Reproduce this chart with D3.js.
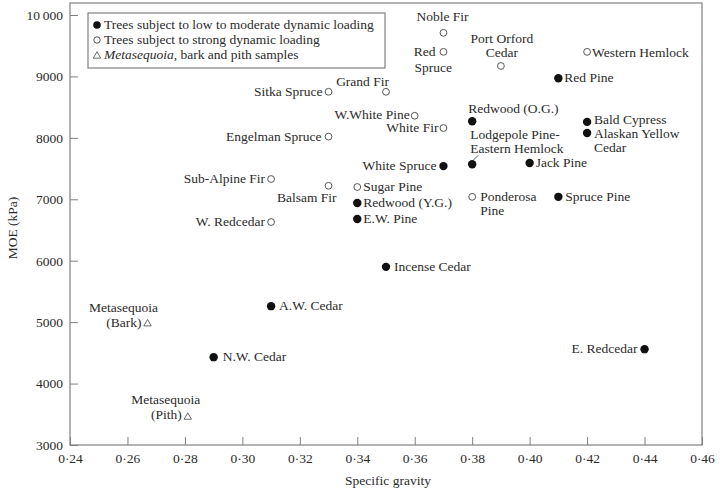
<!DOCTYPE html>
<html>
<head>
<meta charset="utf-8">
<script src="https://cdn.jsdelivr.net/npm/d3@7"></script>
<style>
  body { margin: 0; background: #fff; }
  text { font-family: "Liberation Serif", "DejaVu Serif", serif; fill: #2b2b2b; }
</style>
</head>
<body>
<div id="chart"></div>
<script>
var w = 720;
var h = 490;

// data
var names = [
    'Red Pine', 'Redwood (O.G.)', 'Bald Cypress', 'Alaskan Yellow Cedar', 'White Spruce',
    'Lodgepole Pine-Eastern Hemlock', 'Jack Pine', 'Spruce Pine', 'Redwood (Y.G.)', 'E.W. Pine',
    'Incense Cedar', 'A.W. Cedar', 'N.W. Cedar', 'E. Redcedar',
    'Noble Fir', 'Red Spruce', 'Port Orford Cedar', 'Western Hemlock', 'Sitka Spruce',
    'Grand Fir', 'W.White Pine', 'White Fir', 'Engelman Spruce', 'Sub-Alpine Fir',
    'Balsam Fir', 'Sugar Pine', 'Ponderosa Pine', 'W. Redcedar',
    'Metasequoia (Bark)', 'Metasequoia (Pith)'
];
var gravity = [
    0.41, 0.38, 0.42, 0.42, 0.37,
    0.38, 0.40, 0.41, 0.34, 0.34,
    0.35, 0.31, 0.29, 0.44,
    0.37, 0.37, 0.39, 0.42, 0.33,
    0.35, 0.36, 0.37, 0.33, 0.31,
    0.33, 0.34, 0.38, 0.31,
    0.267, 0.281
];
var moe = [
    8970, 8270, 8260, 8080, 7540,
    7570, 7590, 7040, 6940, 6680,
    5900, 5260, 4430, 4560,
    9710, 9400, 9170, 9400, 8750,
    8750, 8360, 8160, 8020, 7330,
    7220, 7200, 7040, 6630,
    4990, 3470
];
// 0 = low to moderate dynamic loading, 1 = strong dynamic loading, 2 = Metasequoia
var group = [
    0, 0, 0, 0, 0,
    0, 0, 0, 0, 0,
    0, 0, 0, 0,
    1, 1, 1, 1, 1,
    1, 1, 1, 1, 1,
    1, 1, 1, 1,
    2, 2
];

var xTicks = [0.24, 0.26, 0.28, 0.30, 0.32, 0.34, 0.36, 0.38, 0.40, 0.42, 0.44, 0.46];
var yTicks = [3000, 4000, 5000, 6000, 7000, 8000, 9000, 10000];
var legendText = ['Trees subject to low to moderate dynamic loading',
                  'Trees subject to strong dynamic loading',
                  ', bark and pith samples'];

// label placement: [text, dx, dy, anchor] relative to the marker
var labelPos = {
    'Red Pine': [['Red Pine', 6, 4, 'start']],
    'Redwood (O.G.)': [['Redwood (O.G.)', -4, -8, 'start']],
    'Bald Cypress': [['Bald Cypress', 7, 2, 'start']],
    'Alaskan Yellow Cedar': [['Alaskan Yellow', 7, 5, 'start'], ['Cedar', 7, 19, 'start']],
    'White Spruce': [['White Spruce', -7, 4, 'end']],
    'Lodgepole Pine-Eastern Hemlock': [['Lodgepole Pine-', -2, -25, 'start'], ['Eastern Hemlock', -2, -11, 'start']],
    'Jack Pine': [['Jack Pine', 6, 4, 'start']],
    'Spruce Pine': [['Spruce Pine', 7, 4, 'start']],
    'Redwood (Y.G.)': [['Redwood (Y.G.)', 6, 4, 'start']],
    'E.W. Pine': [['E.W. Pine', 6, 4, 'start']],
    'Incense Cedar': [['Incense Cedar', 8, 4, 'start']],
    'A.W. Cedar': [['A.W. Cedar', 8, 4, 'start']],
    'N.W. Cedar': [['N.W. Cedar', 9, 4, 'start']],
    'E. Redcedar': [['E. Redcedar', -7, 4, 'end']],
    'Noble Fir': [['Noble Fir', -1, -12, 'middle']],
    'Red Spruce': [['Red', -8, 4, 'end'], ['Spruce', -29, 20, 'start']],
    'Port Orford Cedar': [['Port Orford', 1, -23, 'middle'], ['Cedar', 1, -9, 'middle']],
    'Western Hemlock': [['Western Hemlock', 5, 5, 'start']],
    'Sitka Spruce': [['Sitka Spruce', -6, 4, 'end']],
    'Grand Fir': [['Grand Fir', 3, -6, 'end']],
    'W.White Pine': [['W.White Pine', -5, 3, 'end']],
    'White Fir': [['White Fir', -5, 4, 'end']],
    'Engelman Spruce': [['Engelman Spruce', -7, 4, 'end']],
    'Sub-Alpine Fir': [['Sub-Alpine Fir', -6, 4, 'end']],
    'Balsam Fir': [['Balsam Fir', 8, 16, 'end']],
    'Sugar Pine': [['Sugar Pine', 6, 4, 'start']],
    'Ponderosa Pine': [['Ponderosa', 8, 4, 'start'], ['Pine', 8, 18, 'start']],
    'W. Redcedar': [['W. Redcedar', -6, 4, 'end']],
    'Metasequoia (Bark)': [['Metasequoia', -24, -11, 'middle'], ['(Bark)', -6, 4, 'end']],
    'Metasequoia (Pith)': [['Metasequoia', -22, -12, 'middle'], ['(Pith)', -6, 3, 'end']]
};

var plotLeft = 70, plotRight = 702, plotTop = 3, plotBottom = 445;
var axisColor = '#808080';
var fontSize = '13.5px';

var svg = d3.select('#chart')
            .append('svg')
            .attr('width', w)
            .attr('height', h);

var x = d3.scaleLinear()
          .domain([0.24, 0.46])
          .range([plotLeft, plotRight]);

var y = d3.scaleLinear()
          .domain([3000, 10000])
          .range([plotBottom, plotTop + 12]);

var xAxis = d3.axisBottom(x)
              .tickValues(xTicks)
              .tickSizeInner(-8)
              .tickSizeOuter(0)
              .tickPadding(8)
              .tickFormat(function(d) { return d3.format('.2f')(d).replace('.', '\u00b7'); });

var yAxis = d3.axisLeft(y)
              .tickValues(yTicks)
              .tickSizeInner(-8)
              .tickSizeOuter(0)
              .tickPadding(7)
              .tickFormat(function(d) { return d >= 10000 ? '10\u2009000' : String(d); });

svg.append('g')
   .attr('transform', 'translate(0,' + plotBottom + ')')
   .call(xAxis);
svg.append('g')
   .attr('transform', 'translate(' + plotLeft + ',0)')
   .call(yAxis);

svg.selectAll('.domain').remove();
svg.selectAll('.tick line').attr('stroke', axisColor);
svg.selectAll('.tick text')
   .style('font-family', '"Liberation Serif", serif')
   .style('font-size', fontSize)
   .attr('fill', '#2b2b2b');

// frame
svg.append('rect')
   .attr('x', plotLeft)
   .attr('y', plotTop)
   .attr('width', plotRight - plotLeft)
   .attr('height', plotBottom - plotTop)
   .attr('fill', 'none')
   .attr('stroke', axisColor)
   .attr('stroke-width', 1.2);

// axis titles
svg.append('text')
   .attr('x', (plotLeft + plotRight) / 2 + 2)
   .attr('y', 485)
   .attr('text-anchor', 'middle')
   .style('font-size', fontSize)
   .text('Specific gravity');

svg.append('text')
   .attr('transform', 'translate(17,228) rotate(-90)')
   .attr('text-anchor', 'middle')
   .style('font-size', fontSize)
   .text('MOE (kPa)');

var points = names.map(function(n, i) {
    return { name: n, sg: gravity[i], moe: moe[i], group: group[i] };
});

var tri = d3.symbol().type(d3.symbolTriangle).size(24);

function drawMarker(sel, g) {
    if (g === 0) {
        sel.append('circle').attr('r', 4.2).attr('fill', '#111');
    } else if (g === 1) {
        sel.append('circle').attr('r', 3.4).attr('fill', '#fff')
           .attr('stroke', '#444').attr('stroke-width', 0.9);
    } else {
        sel.append('path').attr('d', tri).attr('fill', '#fff')
           .attr('stroke', '#444').attr('stroke-width', 0.8)
           .attr('transform', 'translate(0,1)');
    }
}

var marks = svg.append('g')
               .selectAll('g')
               .data(points)
               .enter()
               .append('g')
               .attr('transform', function(d) {
                   return 'translate(' + x(d.sg) + ',' + y(d.moe) + ')';
               });

marks.each(function(d) {
    var g = d3.select(this);
    drawMarker(g, d.group);
    (labelPos[d.name] || []).forEach(function(l) {
        g.append('text')
         .attr('x', l[1])
         .attr('y', l[2])
         .attr('text-anchor', l[3])
         .style('font-size', fontSize)
         .text(l[0]);
    });
    if (d.name === 'Lodgepole Pine-Eastern Hemlock') {
        g.append('line')
         .attr('x1', 1).attr('y1', -4)
         .attr('x2', 6).attr('y2', -9)
         .attr('stroke', '#333')
         .attr('stroke-width', 0.8);
    }
});

// legend
var legend = svg.append('g');
legend.append('rect')
      .attr('x', 88)
      .attr('y', 13)
      .attr('width', 297)
      .attr('height', 55)
      .attr('fill', '#fff')
      .attr('stroke', axisColor)
      .attr('stroke-width', 1.2);

[0, 1, 2].forEach(function(g, i) {
    var row = legend.append('g')
                    .attr('transform', 'translate(97,' + (25 + i * 15) + ')');
    drawMarker(row, g);
    row.select('circle').attr('r', g === 0 ? 3.8 : 3.2);
    var t = row.append('text')
               .attr('x', 7)
               .attr('y', 4)
               .style('font-size', fontSize);
    if (g === 2) {
        t.append('tspan').style('font-style', 'italic').text('Metasequoia');
        t.append('tspan').text(legendText[2]);
    } else {
        t.text(legendText[g]);
    }
});
</script>
</body>
</html>
